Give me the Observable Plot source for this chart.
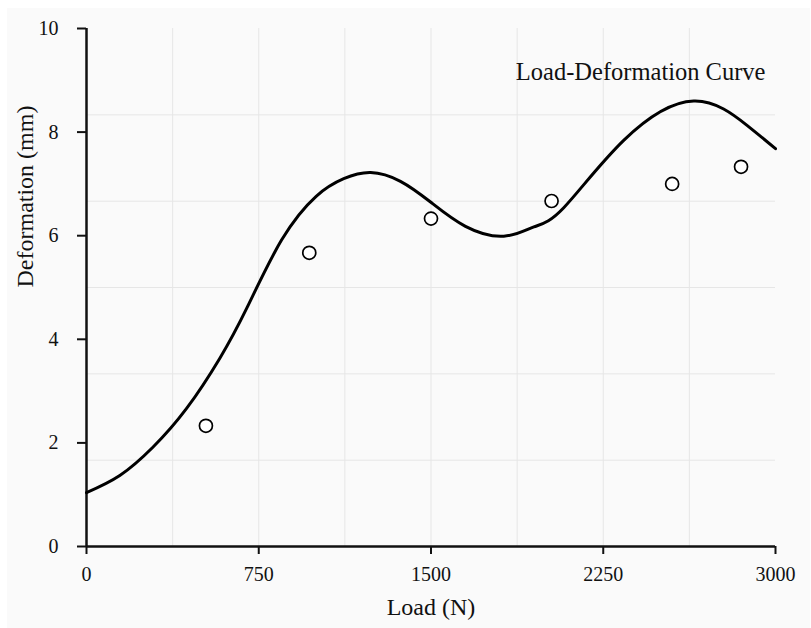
<!DOCTYPE html>
<html>
<head>
<meta charset="utf-8">
<script src="https://cdn.jsdelivr.net/npm/d3@7"></script>
<script src="https://cdn.jsdelivr.net/npm/@observablehq/plot@0.6"></script>
<style>
  html, body { margin: 0; padding: 0; background: #ffffff; }
  #wrap { position: relative; width: 811px; height: 628px; overflow: hidden; }
  #panel { position: absolute; left: 7px; top: 8px; width: 803px; height: 620px; background: #fafafa; }
  #chart { position: absolute; left: 0; top: 0; }
  #chart svg { background: transparent !important; }
</style>
</head>
<body>
<div id="wrap"><div id="panel"></div><div id="chart"></div></div>
<script>
// Measured data points (Load N, Deformation mm)
const pointLoad = [520, 970, 1500, 2025, 2550, 2850];
const pointDeform = [2.33, 5.67, 6.33, 6.67, 7.0, 7.33];

// Fitted curve
const curveLoad = [0, 145, 290, 435, 580, 700, 850, 1000, 1120, 1237, 1367, 1498, 1650, 1817, 1948, 2078, 2339, 2644, 2876, 3000];
const curveDeform = [1.04, 1.37, 1.92, 2.66, 3.63, 4.62, 5.92, 6.76, 7.10, 7.22, 7.05, 6.65, 6.18, 5.99, 6.17, 6.54, 7.84, 8.60, 8.13, 7.68];

// Ticks and gridlines
const xTicks = [0, 750, 1500, 2250, 3000];
const yTicks = [0, 2, 4, 6, 8, 10];
const xGrid = [375, 750, 1125, 1500, 1875, 2250, 2625];
const yGrid = [10/6, 20/6, 30/6, 40/6, 50/6];

const title = "Load-Deformation Curve";
const xLabel = "Load (N)";
const yLabel = "Deformation (mm)";

const points = pointLoad.map((x, i) => ({x, y: pointDeform[i]}));
const curve = curveLoad.map((x, i) => ({x, y: curveDeform[i]}));

const font = "'Liberation Serif', 'Times New Roman', serif";

const chart = Plot.plot({
  width: 811,
  height: 628,
  marginLeft: 86,
  marginRight: 36,
  marginTop: 28,
  marginBottom: 82,
  style: {fontFamily: font, fontSize: "20px", color: "#111", background: "transparent"},
  x: {domain: [0, 3000]},
  y: {domain: [0, 10]},
  marks: [
    Plot.gridX(xGrid, {stroke: "#e6e6e6", strokeOpacity: 1, strokeWidth: 1}),
    Plot.gridY(yGrid, {stroke: "#e6e6e6", strokeOpacity: 1, strokeWidth: 1}),
    Plot.axisX({ticks: xTicks, tickFormat: d => String(d), tickSize: 8, tickPadding: 12, strokeWidth: 2, stroke: "#111", label: null, fontSize: 20}),
    Plot.axisY({ticks: yTicks, tickFormat: d => String(d), tickSize: 9, tickPadding: 19, strokeWidth: 2, stroke: "#111", label: null, fontSize: 20}),
    Plot.ruleX([0], {y1: 0, y2: 10, stroke: "#111", strokeWidth: 2.5}),
    Plot.ruleY([0], {x1: 0, x2: 3000, stroke: "#111", strokeWidth: 2.5}),
    Plot.line(curve, {x: "x", y: "y", curve: "natural", stroke: "#000", strokeWidth: 3}),
    Plot.dot(points, {x: "x", y: "y", r: 6.5, fill: "#fff", stroke: "#000", strokeWidth: 1.7}),
    Plot.text([title], {frameAnchor: "top-right", textAnchor: "end", lineAnchor: "top", dx: -10, dy: 34, fontSize: 24.5, fill: "#111"}),
    Plot.text([xLabel], {frameAnchor: "bottom", dy: 68, fontSize: 24, fill: "#111"}),
    Plot.text([yLabel], {frameAnchor: "left", rotate: -90, dx: -61, fontSize: 24, fill: "#111"})
  ]
});
document.getElementById("chart").appendChild(chart);
</script>
</body>
</html>
